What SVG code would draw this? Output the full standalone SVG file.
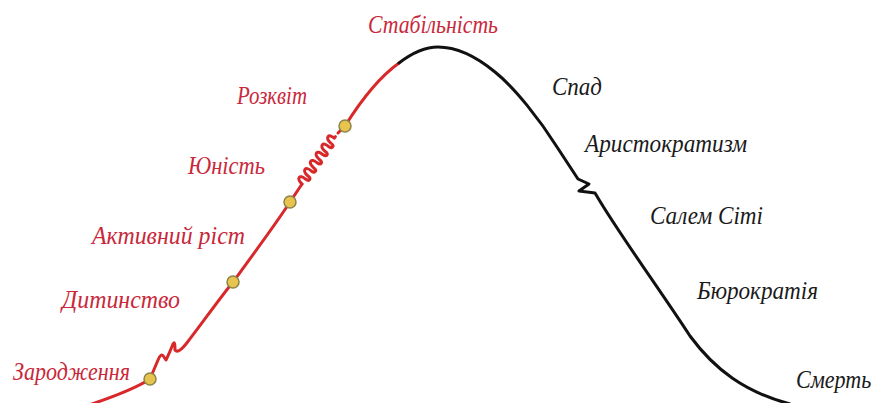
<svg xmlns="http://www.w3.org/2000/svg" width="874" height="403" viewBox="0 0 874 403">
<style>
.red{fill:none;stroke:#d8282a;stroke-width:3;stroke-linecap:round;stroke-linejoin:round}
.blk{fill:none;stroke:#111;stroke-width:3;stroke-linecap:round;stroke-linejoin:round}
.dot{fill:#e8c44e;stroke:#8a8448;stroke-width:1.5}
text{font-family:"Liberation Serif","DejaVu Serif",serif;font-style:italic;font-size:26px}
.lr{fill:#c9283a}
.lb{fill:#1a1a1a}
</style>
<rect width="874" height="403" fill="#fff"/>
<g id="curve">
<path class="red" d="M 86 406 C 110 398, 135 389, 150 379 L 158 360 Q 161 352 164 357 L 166 360 Q 169 354 173 344 Q 175 340 175 350 Q 178 354 186 344 C 200 326, 220 298, 233 282 C 255 252, 275 225, 290 202 L 302 184"/>
<path class="red" transform="translate(302,184) rotate(-54.8)" d="M 0 0 c 1 -8 7 -8 6 0 c 0 5 4 5 4 0 c 1 -8 7 -8 6 0 c 0 5 4 5 4 0 c 1 -8 7 -8 6 0 c 0 5 4 5 4 0 c 1 -8 7 -8 6 0 c 0 5 4 5 4 0 c 1 -8 7 -8 6 0 c 0 5 4 5 4 0 c 1 -8 7 -8 6 0 l 2 0"/>
<path class="red" d="M 338 133 L 345 126 C 360 102, 378 78, 399 63"/>
<path class="blk" d="M 399 63 C 412 53, 425 47, 438 47 C 458 47, 478 58, 495 72 C 515 88, 540 120, 557 147 L 578 179 L 589 184 L 579 191 L 595 193 L 598 198 C 620 235, 660 290, 690 336 C 715 370, 745 392, 790 404"/>
</g>
<g id="dots">
<circle class="dot" cx="150" cy="379" r="6"/>
<circle class="dot" cx="233" cy="282" r="6"/>
<circle class="dot" cx="290" cy="202" r="6"/>
<circle class="dot" cx="345" cy="126" r="6"/>
</g>
<g id="labels-growth">
<text class="lr" x="368" y="33" textLength="130" lengthAdjust="spacingAndGlyphs">Стабільність</text>
<text class="lr" x="237" y="104" textLength="70" lengthAdjust="spacingAndGlyphs">Розквіт</text>
<text class="lr" x="188" y="174" textLength="77" lengthAdjust="spacingAndGlyphs">Юність</text>
<text class="lr" x="92" y="244" textLength="153" lengthAdjust="spacingAndGlyphs">Активний ріст</text>
<text class="lr" x="62" y="308" textLength="118" lengthAdjust="spacingAndGlyphs">Дитинство</text>
<text class="lr" x="13" y="380" textLength="117" lengthAdjust="spacingAndGlyphs">Зародження</text>
</g>
<g id="labels-decline">
<text class="lb" x="552" y="95" textLength="50" lengthAdjust="spacingAndGlyphs">Спад</text>
<text class="lb" x="585" y="152" textLength="162" lengthAdjust="spacingAndGlyphs">Аристократизм</text>
<text class="lb" x="650" y="224" textLength="113" lengthAdjust="spacingAndGlyphs">Салем Сіті</text>
<text class="lb" x="697" y="299" textLength="121" lengthAdjust="spacingAndGlyphs">Бюрократія</text>
<text class="lb" transform="translate(796,388) scale(0.85,1)" x="0" y="0">Смерть</text>
</g>
</svg>
